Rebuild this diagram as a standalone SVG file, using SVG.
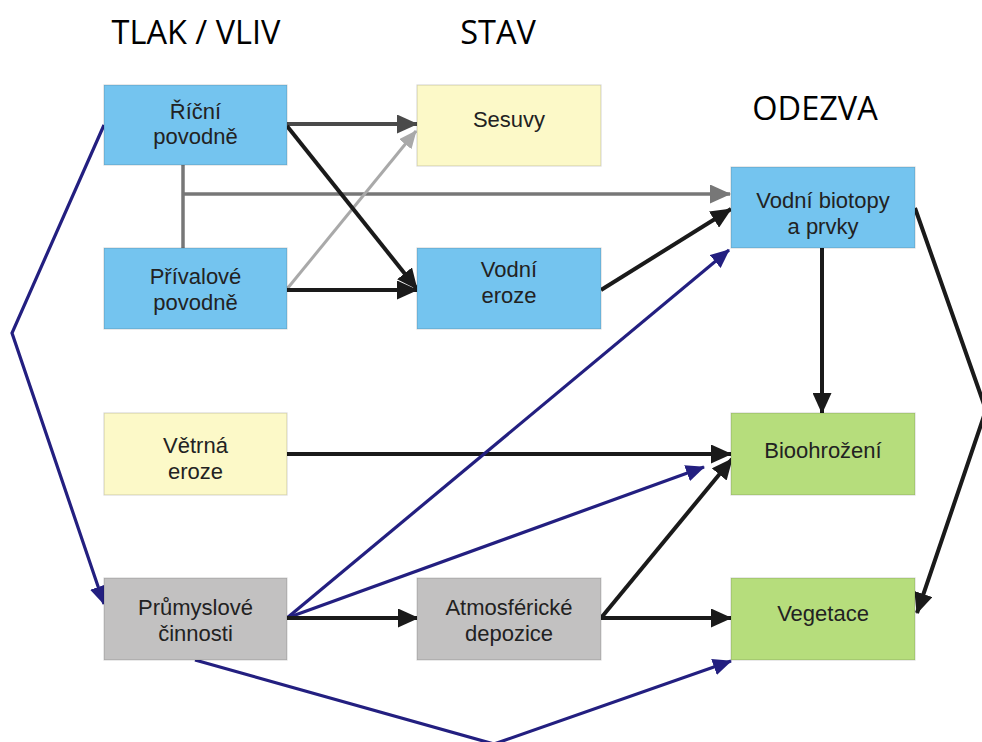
<svg xmlns="http://www.w3.org/2000/svg" width="982" height="742" viewBox="0 0 982 742">
<style>
.box{stroke:#000;stroke-opacity:0.15;stroke-width:1.2}
.blue{fill:#74c4ef}
.yellow{fill:#fcf9c8}
.green{fill:#b6dd7c}
.grey{fill:#c2c1c1}
.t{font-family:"Liberation Sans",Arial,sans-serif;font-size:22px;fill:#222;text-anchor:middle}
.h{font-family:"Open Sans","Liberation Sans",sans-serif;font-size:32.5px;fill:#000;text-anchor:middle}
.c{fill:none;stroke-linejoin:miter}
.k{stroke:#1a1a1a;stroke-width:4}
.n{stroke:#231f80;stroke-width:3.2}
.dg{stroke:#4a4a4a;stroke-width:4}
.lg{stroke:#a9a9a9;stroke-width:3}
.mg{stroke:#777;stroke-width:3.5}
</style>
<defs>
<marker id="ak" markerUnits="userSpaceOnUse" markerWidth="21" markerHeight="19" refX="20" refY="9.5" orient="auto"><path d="M0,0 L21,9.5 L0,19 z" fill="#1a1a1a"/></marker>
<marker id="an" markerUnits="userSpaceOnUse" markerWidth="19" markerHeight="17" refX="18" refY="8.5" orient="auto"><path d="M0,0 L19,8.5 L0,17 z" fill="#231f80"/></marker>
<marker id="adg" markerUnits="userSpaceOnUse" markerWidth="21" markerHeight="19" refX="20" refY="9.5" orient="auto"><path d="M0,0 L21,9.5 L0,19 z" fill="#4a4a4a"/></marker>
<marker id="alg" markerUnits="userSpaceOnUse" markerWidth="18" markerHeight="16" refX="17" refY="8" orient="auto"><path d="M0,0 L18,8 L0,16 z" fill="#a9a9a9"/></marker>
<marker id="amg" markerUnits="userSpaceOnUse" markerWidth="21" markerHeight="19" refX="20" refY="9.5" orient="auto"><path d="M0,0 L21,9.5 L0,19 z" fill="#777"/></marker>
</defs>
<rect width="982" height="742" fill="#fff"/>
<g id="headers">
<text class="h" x="196" y="44">TLAK / VLIV</text>
<text class="h" x="498" y="44">STAV</text>
<text class="h" x="815" y="120">ODEZVA</text>
</g>
<g id="connectors">
<path class="c mg" d="M183,165 V248"/>
<path class="c mg" d="M183,194 H730" marker-end="url(#amg)"/>
<path class="c lg" d="M287,289 L416,131" marker-end="url(#alg)"/>
<path class="c dg" d="M287,124 L417,124" marker-end="url(#adg)"/>
<path class="c k" d="M287,126 L417,289" marker-end="url(#ak)"/>
<path class="c k" d="M287,290 L417,290" marker-end="url(#ak)"/>
<path class="c k" d="M601,290 L731,209" marker-end="url(#ak)"/>
<path class="c n" d="M104,125 L12,333 L104,604" marker-end="url(#an)"/>
<path class="c k" d="M822,248 V413" marker-end="url(#ak)"/>
<path class="c k" d="M915,208 L986,410 L917,613" marker-end="url(#ak)"/>
<path class="c k" d="M287,454 L731,454" marker-end="url(#ak)"/>
<path class="c n" d="M287,618 L729,250" marker-end="url(#an)"/>
<path class="c n" d="M287,618 L704,467" marker-end="url(#an)"/>
<path class="c k" d="M287,618 L418,618" marker-end="url(#ak)"/>
<path class="c k" d="M601,618 L732,459" marker-end="url(#ak)"/>
<path class="c k" d="M601,618 L731,618" marker-end="url(#ak)"/>
<path class="c n" d="M195,660 L494,744 L731,661" marker-end="url(#an)"/>
</g>
<g id="ricni">
<rect class="box blue" x="104" y="85" width="183" height="80"/>
<text class="t" x="195.5" y="119">Říční</text>
<text class="t" x="195.5" y="144">povodně</text>
</g>
<g id="prival">
<rect class="box blue" x="104" y="248" width="183" height="81"/>
<text class="t" x="195.5" y="284">Přívalové</text>
<text class="t" x="195.5" y="310">povodně</text>
</g>
<g id="sesuvy">
<rect class="box yellow" x="417" y="85" width="184" height="81"/>
<text class="t" x="509" y="127">Sesuvy</text>
</g>
<g id="vodni-eroze">
<rect class="box blue" x="417" y="248" width="184" height="81"/>
<text class="t" x="509" y="277">Vodní</text>
<text class="t" x="509" y="303">eroze</text>
</g>
<g id="vodni-biotopy">
<rect class="box blue" x="731" y="167" width="184" height="81"/>
<text class="t" x="823" y="208">Vodní biotopy</text>
<text class="t" x="823" y="234">a prvky</text>
</g>
<g id="vetrna">
<rect class="box yellow" x="104" y="413" width="183" height="82"/>
<text class="t" x="195.5" y="453">Větrná</text>
<text class="t" x="195.5" y="479">eroze</text>
</g>
<g id="bioohrozeni">
<rect class="box green" x="731" y="413" width="184" height="82"/>
<text class="t" x="823" y="458">Bioohrožení</text>
</g>
<g id="prumyslove">
<rect class="box grey" x="104" y="578" width="183" height="82"/>
<text class="t" x="195.5" y="615">Průmyslové</text>
<text class="t" x="195.5" y="641">činnosti</text>
</g>
<g id="atmosfericke">
<rect class="box grey" x="417" y="578" width="184" height="82"/>
<text class="t" x="509" y="615">Atmosférické</text>
<text class="t" x="509" y="641">depozice</text>
</g>
<g id="vegetace">
<rect class="box green" x="731" y="578" width="184" height="82"/>
<text class="t" x="823" y="621">Vegetace</text>
</g>
</svg>
